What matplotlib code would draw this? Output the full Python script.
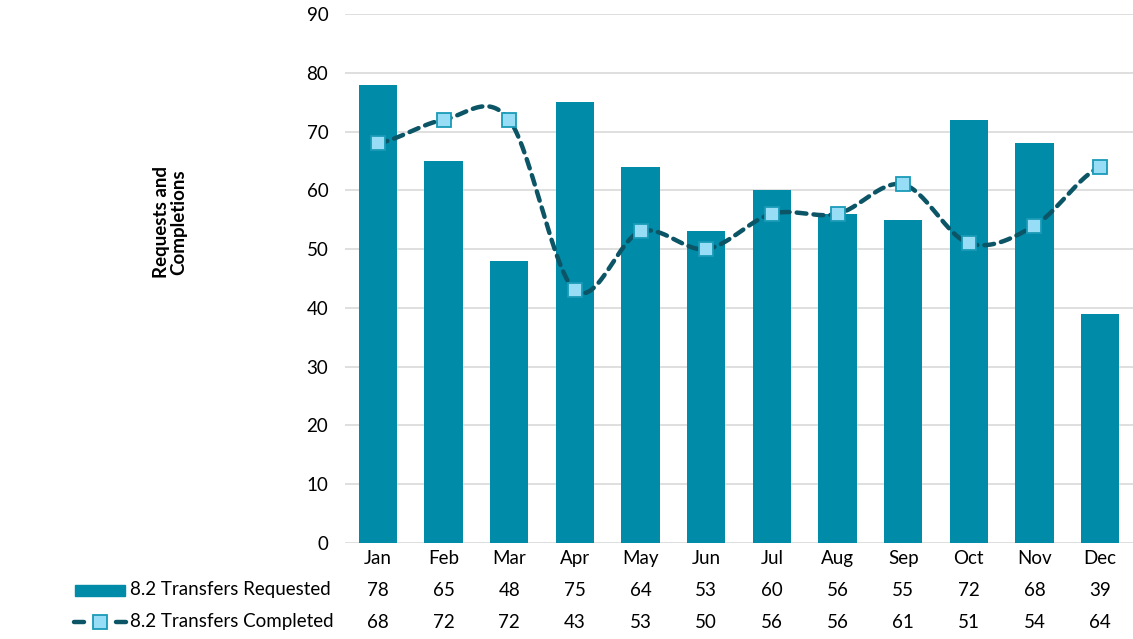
import numpy as np
import matplotlib.pyplot as plt
from matplotlib.lines import Line2D
from matplotlib.patches import Rectangle
import matplotlib.transforms as mtransforms

plt.rcParams['font.family'] = ['Lato', 'DejaVu Sans']

months = ['Jan', 'Feb', 'Mar', 'Apr', 'May', 'Jun', 'Jul', 'Aug', 'Sep', 'Oct', 'Nov', 'Dec']
requested = [78, 65, 48, 75, 64, 53, 60, 56, 55, 72, 68, 39]
completed = [68, 72, 72, 43, 53, 50, 56, 56, 61, 51, 54, 64]
series_names = ['8.2 Transfers Requested', '8.2 Transfers Completed']

bar_color = '#008BA8'
line_color = '#0B5566'
marker_face = '#97DDF5'
marker_edge = '#1A9BB8'


def catmull_rom(x, y, n=30):
    # smoothing like the spreadsheet "smoothed line" option
    x = np.asarray(x, float)
    y = np.asarray(y, float)
    px = np.concatenate([[2 * x[0] - x[1]], x, [2 * x[-1] - x[-2]]])
    py = np.concatenate([[y[0]], y, [y[-1]]])
    xs, ys = [], []
    for i in range(1, len(px) - 2):
        t = np.linspace(0, 1, n, endpoint=False)
        for arr, out in ((px, xs), (py, ys)):
            p0, p1, p2, p3 = arr[i - 1], arr[i], arr[i + 1], arr[i + 2]
            out.extend(0.5 * (2 * p1 + (-p0 + p2) * t
                              + (2 * p0 - 5 * p1 + 4 * p2 - p3) * t ** 2
                              + (-p0 + 3 * p1 - 3 * p2 + p3) * t ** 3))
    xs.append(x[-1])
    ys.append(y[-1])
    return np.array(xs), np.array(ys)


fig = plt.figure(figsize=(11.33, 6.39), dpi=100)
ax = fig.add_axes([345 / 1133, 96 / 639, 788 / 1133, 529 / 639])

x = np.arange(len(months))
ax.bar(x, requested, width=0.58, color=bar_color, zorder=2)
sx, sy = catmull_rom(x, completed)
ax.plot(sx, sy, color=line_color, lw=3.2, dashes=(2.2, 1.6), zorder=3,
        solid_capstyle='round', dash_capstyle='round')
ax.plot(x, completed, ls='none', marker='s', ms=10, mfc=marker_face,
        mec=marker_edge, mew=1.3, zorder=4)

ax.set_xlim(-0.5, len(months) - 0.5)
ax.set_ylim(0, 90)
ax.set_yticks(range(0, 91, 10))
ax.yaxis.grid(True, color='#D9D9D9', lw=1.2, zorder=0)
ax.set_axisbelow(True)
for s in ax.spines.values():
    s.set_visible(False)
ax.tick_params(axis='both', length=0, labelsize=13.5, colors='black')
ax.tick_params(axis='y', pad=12)
ax.set_xticks(x)
ax.set_xticklabels(months)
ax.tick_params(axis='x', pad=5)

fig.text(170 / 1133, 1 - 222 / 639, 'Requests and\nCompletions', rotation=90,
         ha='center', va='center', fontsize=13.5, fontweight='bold', linespacing=1.0)

# data table under the chart
trans = mtransforms.blended_transform_factory(ax.transData, fig.transFigure)
row_y = [1 - 590 / 639, 1 - 622 / 639]
for row, vals in zip(row_y, [requested, completed]):
    for xi, v in zip(x, vals):
        ax.text(xi, row, str(v), transform=trans, ha='center', va='center',
                fontsize=13.5, clip_on=False)

for row, name in zip(row_y, series_names):
    fig.text(130 / 1133, row, name, ha='left', va='center', fontsize=13.5)

fig.patches.append(Rectangle((75 / 1133, 1 - 596 / 639), 50 / 1133, 11 / 639,
                             transform=fig.transFigure, color=bar_color))
for x0, x1 in ((74, 84), (116, 126)):
    fig.lines.append(Line2D([x0 / 1133, x1 / 1133], [row_y[1]] * 2,
                            transform=fig.transFigure, color=line_color, lw=3.2,
                            solid_capstyle='round'))
fig.lines.append(Line2D([100 / 1133], [row_y[1]], transform=fig.transFigure,
                        marker='s', ms=10, mfc=marker_face, mec=marker_edge, mew=1.3))

fig.savefig('out.png', dpi=100)
